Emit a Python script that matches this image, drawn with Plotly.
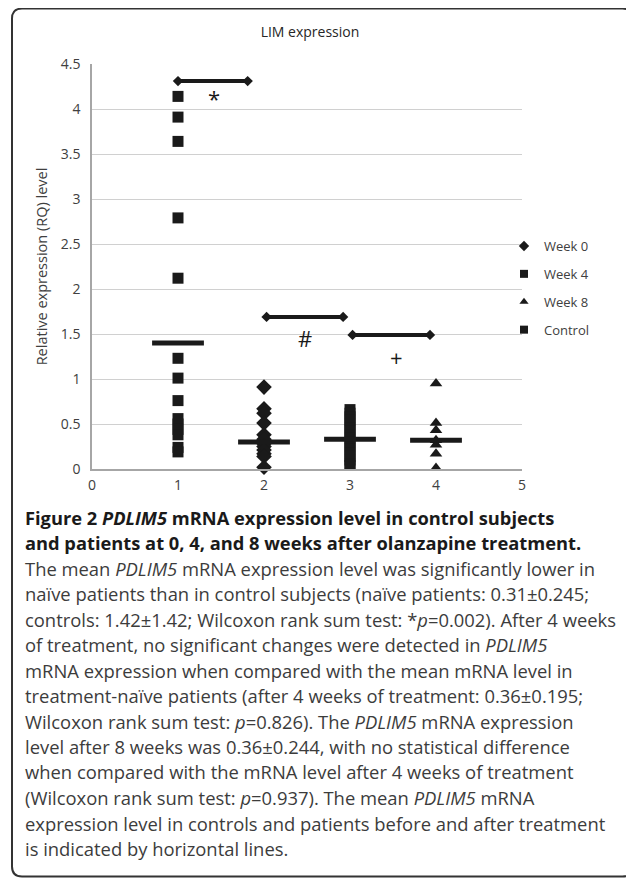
import plotly.graph_objects as go

# ---------------- data ----------------
series_names = ["Week 0", "Week 4", "Week 8", "Control"]
series_x = [2, 3, 4, 1]
series_symbols = ["diamond", "square", "triangle-up", "square"]

week0_values = [0.91, 0.67, 0.62, 0.51, 0.38, 0.33, 0.28, 0.25, 0.21, 0.17, 0.14, 0.02]
week4_values = [0.66, 0.62, 0.58, 0.54, 0.50, 0.46, 0.42, 0.38, 0.34, 0.30, 0.26,
                0.22, 0.18, 0.14, 0.10, 0.06, 0.04]
week8_values = [0.95, 0.51, 0.43, 0.32, 0.27, 0.17, 0.01]
control_values = [4.14, 3.91, 3.64, 2.79, 2.12, 1.23, 1.01, 0.76, 0.56, 0.50,
                  0.44, 0.38, 0.24, 0.19]
series_values = [week0_values, week4_values, week8_values, control_values]

mean_x = [1, 2, 3, 4]
mean_values = [1.40, 0.30, 0.33, 0.32]

sig_x_start = [1.00, 2.03, 3.03]
sig_x_end = [1.81, 2.92, 3.93]
sig_y = [4.31, 1.69, 1.49]
sig_labels = ["*", "#", "+"]
sig_label_x = [1.42, 2.48, 3.54]
sig_label_y = [4.12, 1.46, 1.25]

y_ticks = [0, 0.5, 1, 1.5, 2, 2.5, 3, 3.5, 4, 4.5]
x_ticks = [0, 1, 2, 3, 4, 5]

caption_lines = [
    ("<b>Figure 2 <i>PDLIM5</i> mRNA expression level in control subjects</b>", True),
    ("<b>and patients at 0, 4, and 8 weeks after olanzapine treatment.</b>", True),
    ("The mean <i>PDLIM5</i> mRNA expression level was significantly lower in", False),
    ("naïve patients than in control subjects (naïve patients: 0.31±0.245;", False),
    ("controls: 1.42±1.42; Wilcoxon rank sum test: *<i>p</i>=0.002). After 4 weeks", False),
    ("of treatment, no significant changes were detected in <i>PDLIM5</i>", False),
    ("mRNA expression when compared with the mean mRNA level in", False),
    ("treatment-naïve patients (after 4 weeks of treatment: 0.36±0.195;", False),
    ("Wilcoxon rank sum test: <i>p</i>=0.826). The <i>PDLIM5</i> mRNA expression", False),
    ("level after 8 weeks was 0.36±0.244, with no statistical difference", False),
    ("when compared with the mRNA level after 4 weeks of treatment", False),
    ("(Wilcoxon rank sum test: <i>p</i>=0.937). The mean <i>PDLIM5</i> mRNA", False),
    ("expression level in controls and patients before and after treatment", False),
    ("is indicated by horizontal lines.", False),
]

# ---------------- layout helpers (page pixel -> paper) ----------------
OFF = 8                      # page body margin
W, H = 634 - OFF, 880 - OFF  # figure size
PL, PR, PT, PB = 92, 522, 64, 469   # plot area in page pixels


def px2x(px):
    return (px - PL) / (PR - PL)


def py2y(py):
    return (PB - py) / (PB - PT)


FONT = "Open Sans"
INK = "#1a1a1a"

fig = go.Figure()

for name, xv, sym, vals in zip(series_names, series_x, series_symbols, series_values):
    fig.add_trace(go.Scatter(
        x=[xv] * len(vals), y=vals, mode="markers", name=name,
        legendgroup=name, showlegend=False,
        marker=dict(symbol=sym, size=11 if sym != "diamond" else 12,
                    color=INK, line=dict(width=0)),
        cliponaxis=False,
    ))

# legend entries (small symbols, as in the reference legend)
for name, sym in zip(series_names, series_symbols):
    fig.add_trace(go.Scatter(
        x=[None], y=[None], mode="markers", name=name, legendgroup=name,
        showlegend=True,
        marker=dict(symbol=sym, size=8, color=INK, line=dict(width=0)),
    ))

# mean lines
fig.add_trace(go.Scatter(
    x=mean_x, y=mean_values, mode="markers", showlegend=False,
    marker=dict(symbol="line-ew", size=37, line=dict(width=5, color=INK)),
    cliponaxis=False, hoverinfo="skip",
))

# significance bars
for xs, xe, yv in zip(sig_x_start, sig_x_end, sig_y):
    fig.add_trace(go.Scatter(
        x=[xs, xe], y=[yv, yv], mode="lines+markers", showlegend=False,
        line=dict(color=INK, width=4),
        marker=dict(symbol="diamond", size=8, color=INK),
        cliponaxis=False, hoverinfo="skip",
    ))

annotations = []
for lab, lx, ly in zip(sig_labels, sig_label_x, sig_label_y):
    annotations.append(dict(
        x=lx, y=ly, xref="x", yref="y", text=lab, showarrow=False,
        font=dict(family=FONT, size=22, color=INK),
    ))

# caption
line_y0 = 517
line_step = 25.5
for i, (txt, bold) in enumerate(caption_lines):
    annotations.append(dict(
        x=px2x(23), y=py2y(line_y0 + i * line_step), xref="paper", yref="paper",
        xanchor="left", yanchor="middle", text=txt, showarrow=False,
        font=dict(family=FONT, size=18.3 if bold else 18.4,
                  color=INK if bold else "#3c3c3c"),
    ))

# border (rounded rectangle)
bx0, bx1, by0, by1, r = 12, 632.5, 8.6, 876.5, 10
path = (
    f"M {px2x(bx0)},{py2y(by0 + r)} "
    f"Q {px2x(bx0)},{py2y(by0)} {px2x(bx0 + r)},{py2y(by0)} "
    f"L {px2x(bx1 - r)},{py2y(by0)} "
    f"Q {px2x(bx1)},{py2y(by0)} {px2x(bx1)},{py2y(by0 + r)} "
    f"L {px2x(bx1)},{py2y(by1 - r)} "
    f"Q {px2x(bx1)},{py2y(by1)} {px2x(bx1 - r)},{py2y(by1)} "
    f"L {px2x(bx0 + r)},{py2y(by1)} "
    f"Q {px2x(bx0)},{py2y(by1)} {px2x(bx0)},{py2y(by1 - r)} Z"
)
shapes = [dict(type="path", path=path, xref="paper", yref="paper",
               line=dict(color="#333333", width=2), layer="above")]

fig.update_layout(
    width=W, height=H,
    margin=dict(l=PL - OFF, r=W - (PR - OFF), t=PT - OFF, b=H - (PB - OFF), pad=0),
    paper_bgcolor="white", plot_bgcolor="white",
    font=dict(family=FONT, color="#404040", size=14),
    title=dict(text="LIM expression", x=(310 - OFF) / W, xanchor="center",
               y=1 - (32 - OFF) / H, yanchor="middle",
               font=dict(family=FONT, size=14, color="#262626")),
    xaxis=dict(range=[0, 5], tickvals=x_ticks, ticktext=[str(t) for t in x_ticks],
               showgrid=False, zeroline=False, showline=True,
               linecolor="#a6a6a6", linewidth=1.5,
               ticks="outside", ticklen=2, tickcolor="rgba(0,0,0,0)",
               tickfont=dict(size=14, color="#404040")),
    yaxis=dict(range=[0, 4.5], tickvals=y_ticks, ticktext=[f"{t:g}" for t in y_ticks],
               showgrid=True, gridcolor="#d0d0d0", gridwidth=1,
               zeroline=False, showline=True, linecolor="#a6a6a6", linewidth=1.5,
               ticks="outside", ticklen=7, tickcolor="rgba(0,0,0,0)",
               tickfont=dict(size=14, color="#404040"),
               title=dict(text="Relative expression (RQ) level", standoff=10,
                          font=dict(size=14.5, color="#404040"))),
    legend=dict(x=px2x(504), y=py2y(231), xanchor="left", yanchor="top",
                font=dict(family=FONT, size=13, color="#404040"),
                tracegroupgap=8, itemwidth=30,
                bgcolor="rgba(0,0,0,0)"),
    annotations=annotations,
    shapes=shapes,
    showlegend=True,
)

fig.write_html("out.html")
